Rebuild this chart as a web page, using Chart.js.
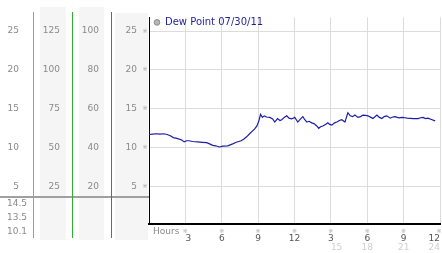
<!DOCTYPE html>
<html>
<head>
<meta charset="utf-8">
<script src="https://cdn.jsdelivr.net/npm/chart.js@4"></script>
<style>
  html, body { margin: 0; padding: 0; background: #fff; overflow: hidden; }
  canvas { display: block; }
</style>
</head>
<body>
<canvas id="dew" width="442" height="253"></canvas>
<script>
const legendLabel = 'Dew Point 07/30/11';

const hours = [
  0.0, 0.3, 0.6, 0.9, 1.2, 1.5, 1.8, 2.0, 2.3, 2.7, 2.9, 3.1, 3.3, 3.6, 4.0, 4.4,
  4.75, 5.0, 5.25, 5.5, 5.8, 6.1, 6.5, 6.9, 7.2, 7.6, 7.8, 8.05, 8.3, 8.5, 8.7, 8.9,
  9.05, 9.2, 9.35, 9.5, 9.7, 9.96, 10.2, 10.37, 10.6, 10.8, 10.95, 11.15, 11.36, 11.55, 11.77, 12.02,
  12.15, 12.27, 12.5, 12.69, 12.85, 13.02, 13.2, 13.43, 13.6, 13.84, 14.0, 14.15, 14.34, 14.55, 14.75, 14.9,
  15.08, 15.3, 15.5, 15.7, 15.9, 16.16, 16.4, 16.6, 16.8, 16.98, 17.23, 17.45, 17.65, 17.85, 18.06, 18.3,
  18.47, 18.8, 19.0, 19.2, 19.4, 19.6, 19.9, 20.1, 20.3, 20.6, 20.9, 21.1, 21.3, 21.8, 22.2, 22.4,
  22.6, 22.8, 23.0, 23.35, 23.6
];
const dewPoint = [
  11.7, 11.75, 11.8, 11.75, 11.8, 11.7, 11.5, 11.3, 11.2, 11.0, 10.75, 10.9, 10.9, 10.8, 10.75, 10.7,
  10.65, 10.5, 10.3, 10.25, 10.1, 10.2, 10.25, 10.5, 10.7, 10.9, 11.1, 11.4, 11.8, 12.1, 12.4, 12.8,
  13.4, 14.3, 13.9, 14.1, 13.95, 13.9, 13.7, 13.3, 13.75, 13.5, 13.6, 13.9, 14.1, 13.8, 13.7, 13.9,
  13.6, 13.3, 13.7, 14.0, 13.6, 13.3, 13.4, 13.2, 13.1, 12.8, 12.5, 12.7, 12.8, 13.0, 13.2, 13.0,
  12.9, 13.2, 13.3, 13.5, 13.6, 13.3, 14.5, 14.1, 14.0, 14.2, 13.9, 14.0, 14.2, 14.15, 14.1, 13.9,
  13.75, 14.2, 13.9, 13.75, 14.0, 14.1, 13.8, 13.95, 14.0, 13.85, 13.9, 13.85, 13.8, 13.75, 13.75, 13.85,
  13.9, 13.75, 13.8, 13.6, 13.45
];

const yTicks = [25, 20, 15, 10, 5];
const col1Ticks = ['25', '20', '15', '10', '5'];
const col2Ticks = ['125', '100', '75', '50', '25'];
const col3Ticks = ['100', '80', '60', '40', '20'];
const statLabels = ['14.5', '13.5', '10.1'];

const xTicks = [3, 6, 9, 12, 15, 18, 21, 24];
const xTickLabels = ['3', '6', '9', '12', '3', '6', '9', '12'];
const x2Ticks = [15, 18, 21, 24];
const x2TickLabels = ['15', '18', '21', '24'];

const FONT = 'DejaVu Sans';

// left side panels, stats and the little tick marks
const sidePanel = {
  id: 'sidePanel',
  afterLayout(chart) {
    if (chart.legend) {
      chart.legend.top = chart.chartArea.top - 3;
      chart.legend.left = chart.chartArea.left + 2;
    }
  },
  beforeDraw(chart) {
    const ctx = chart.ctx;
    const y = chart.scales.y;
    ctx.save();
    ctx.fillStyle = '#f5f5f5';
    ctx.fillRect(40, 7, 26, 233);
    ctx.fillRect(79, 7, 25, 233);
    ctx.fillRect(115, 13, 33, 227);

    ctx.font = '9px ' + FONT;
    ctx.fillStyle = '#8a8a8a';
    ctx.textAlign = 'right';
    ctx.textBaseline = 'middle';
    yTicks.forEach((v, i) => {
      const py = y.getPixelForValue(v);
      ctx.fillText(col1Ticks[i], 19, py);
      ctx.fillText(col2Ticks[i], 60, py);
      ctx.fillText(col3Ticks[i], 99, py);
    });

    ctx.textAlign = 'left';
    statLabels.forEach((t, i) => ctx.fillText(t, 7, 204 + i * 14));

    ctx.fillStyle = '#a0a0a0';
    ctx.fillRect(0, 196, 149, 2);
    ctx.restore();
  },
  afterDraw(chart) {
    const ctx = chart.ctx;
    const { x, y } = chart.scales;
    ctx.save();
    [[33, '#3cc0ea'], [72, '#30b030'], [111, '#d23c3c']].forEach(([lx, c]) => {
      ctx.fillStyle = c;
      ctx.fillRect(lx, 12, 1, 226);
    });

    ctx.font = '6px ' + FONT;
    ctx.fillStyle = '#a8a8a8';
    ctx.textAlign = 'center';
    ctx.textBaseline = 'middle';
    yTicks.forEach((v) => ctx.fillText('※', 145, y.getPixelForValue(v)));
    xTicks.forEach((v) => ctx.fillText('※', Math.min(x.getPixelForValue(v), 439), 231));
    ctx.font = '9px ' + FONT;
    ctx.fillStyle = '#8a8a8a';
    ctx.textAlign = 'left';
    ctx.fillText('Hours', 153, 232);
    ctx.restore();
  },
};

new Chart(document.getElementById('dew'), {
  type: 'line',
  data: {
    datasets: [
      {
        label: legendLabel,
        data: hours.map((h, i) => ({ x: h, y: dewPoint[i] })),
        borderColor: '#1c1ca8',
        borderWidth: 1.2,
        pointRadius: 0,
        fill: false,
        tension: 0,
      },
    ],
  },
  options: {
    responsive: false,
    animation: false,
    layout: { padding: { left: 111, top: 13, right: 2, bottom: 0 } },
    plugins: {
      tooltip: { enabled: false },
      legend: {
        position: 'chartArea',
        align: 'start',
        labels: {
          usePointStyle: true,
          boxWidth: 6,
          boxHeight: 4,
          padding: 3,
          color: '#1f1f9e',
          font: { family: FONT, size: 10 },
          generateLabels: () => [
            {
              text: legendLabel,
              fillStyle: '#b8b8b8',
              strokeStyle: '#8a8a8a',
              lineWidth: 1,
              pointStyle: 'circle',
              datasetIndex: 0,
              fontColor: '#1f1f9e',
            },
          ],
        },
      },
    },
    scales: {
      x: {
        type: 'linear',
        min: 0,
        max: 24,
        weight: 0,
        afterBuildTicks: (s) => { s.ticks = xTicks.map((v) => ({ value: v })); },
        afterFit: (s) => { s.paddingLeft = 0; s.paddingRight = 0; s.height = 17; },
        grid: { color: '#dcdcdc', drawTicks: false },
        border: { color: '#000', width: 2 },
        ticks: {
          align: 'inner',
          padding: 9,
          color: '#555',
          font: { family: FONT, size: 9 },
          callback: (v, i) => xTickLabels[i],
        },
      },
      x2: {
        type: 'linear',
        position: 'bottom',
        min: 0,
        max: 24,
        weight: 1,
        afterBuildTicks: (s) => { s.ticks = x2Ticks.map((v) => ({ value: v })); },
        afterFit: (s) => { s.paddingLeft = 0; s.paddingRight = 0; s.height = 12; },
        grid: { display: false, drawTicks: false },
        border: { display: false },
        ticks: {
          align: 'inner',
          padding: 1,
          color: '#cfcfcf',
          font: { family: FONT, size: 9 },
          callback: (v, i) => x2TickLabels[i],
        },
      },
      y: {
        min: 0.2,
        max: 26.75,
        afterBuildTicks: (s) => { s.ticks = yTicks.map((v) => ({ value: v })); },
        afterFit: (s) => { s.width = 38; },
        grid: { color: '#dcdcdc', drawTicks: false },
        border: { color: '#000', width: 1 },
        ticks: {
          padding: 12,
          color: '#8a8a8a',
          font: { family: FONT, size: 9 },
        },
      },
    },
  },
  plugins: [sidePanel],
});
</script>
</body>
</html>
